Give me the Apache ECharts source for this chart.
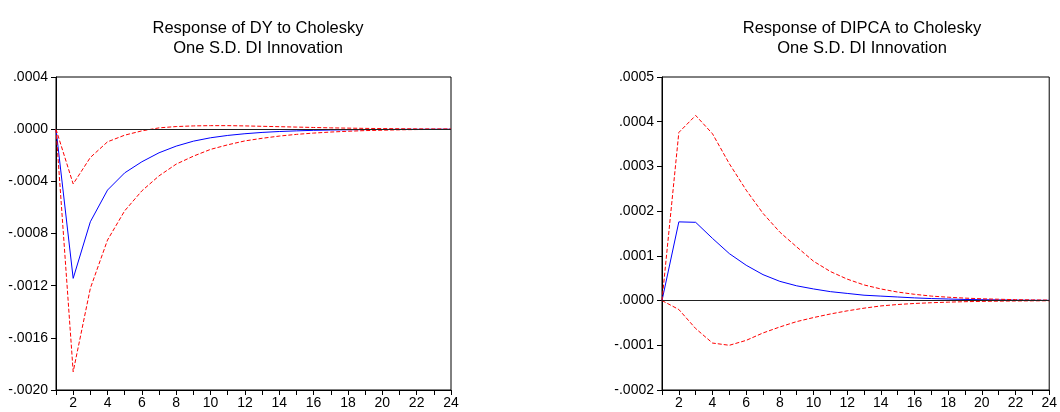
<!DOCTYPE html>
<html>
<head>
<meta charset="utf-8">
<script src="https://cdn.jsdelivr.net/npm/echarts@6/dist/echarts.min.js"></script>
<style>
html,body{margin:0;padding:0;background:#fff;}
#chart{width:1060px;height:412px;}
</style>
</head>
<body>
<div id="chart"></div>
<script>
// periods 1..24
var periods = [];
for (var p = 1; p <= 24; p++) periods.push(String(p));

// Response of DY
var dyResp = [0, -0.001144, -0.00071, -0.000467, -0.000335, -0.00025, -0.000181, -0.00013, -0.000092,
  -0.000066, -0.000048, -0.000035, -0.000025, -0.000018, -0.000013, -0.000009, -0.0000065, -0.0000047,
  -0.0000034, -0.0000024, -0.0000017, -0.0000012, -0.0000008, -0.0000005];
var dyUpper = [0, -0.00042, -0.000217, -0.000097, -0.000046, -0.000013, 0.00001, 0.00002, 0.000025,
  0.000027, 0.000027, 0.000025, 0.000022, 0.000019, 0.000016, 0.000013, 0.00001, 0.000008,
  0.000006, 0.0000045, 0.0000034, 0.0000025, 0.0000018, 0.0000012];
var dyLower = [0, -0.00186, -0.00122, -0.00085, -0.000626, -0.000473, -0.000358, -0.000268, -0.000207,
  -0.000155, -0.00012, -0.00009, -0.00007, -0.000053, -0.00004, -0.00003, -0.000022, -0.000016,
  -0.000011, -0.000008, -0.000005, -0.000003, -0.000002, -0.000001];

// Response of DIPCA
var dipResp = [0, 0.000176, 0.000175, 0.000139, 0.000105, 0.000079, 0.000058, 0.000043, 0.000033,
  0.000026, 0.00002, 0.000016, 0.000012, 0.00001, 0.000008, 0.000006, 0.0000045, 0.0000035,
  0.0000025, 0.000002, 0.0000015, 0.000001, 0.0000007, 0.0000005];
var dipUpper = [0, 0.000376, 0.000414, 0.000373, 0.000306, 0.000247, 0.000195, 0.000153, 0.00012,
  0.000088, 0.000065, 0.000048, 0.000035, 0.000026, 0.000019, 0.000014, 0.00001, 0.0000075,
  0.0000055, 0.000004, 0.000003, 0.000002, 0.0000015, 0.000001];
var dipLower = [0, -0.00002, -0.0000626, -0.000095, -0.0001, -0.000089, -0.0000724, -0.000059, -0.000047,
  -0.000038, -0.00003, -0.000023, -0.000017, -0.000012, -0.0000088, -0.0000065, -0.0000048, -0.0000035,
  -0.0000025, -0.0000018, -0.0000013, -0.0000009, -0.0000006, -0.0000004];

var titles = ['Response of DY to Cholesky\nOne S.D. DI Innovation',
  'Response of DIPCA to Cholesky\nOne S.D. DI Innovation'];

var font = 'Liberation Sans, Arial, sans-serif';

function fmt(v) {
  return v.toFixed(4).replace('0.', '.');
}

function xAx(i) {
  return {
    type: 'category', gridIndex: i, data: periods, boundaryGap: false,
    axisLine: {onZero: false, lineStyle: {color: '#000', width: 1}},
    axisTick: {show: true, interval: 0, length: 5, lineStyle: {color: '#000'}},
    axisLabel: {
      interval: function (idx) { return (idx + 1) % 2 === 0; },
      color: '#000', fontSize: 14, fontFamily: font, margin: 6
    },
    splitLine: {show: false}
  };
}

function yAx(i, min, max, step) {
  return {
    type: 'value', gridIndex: i, min: min, max: max, interval: step,
    axisLine: {show: true, onZero: false, lineStyle: {color: '#000', width: 1}},
    axisTick: {show: true, length: 5, lineStyle: {color: '#000'}},
    axisLabel: {formatter: fmt, color: '#000', fontSize: 14, fontFamily: font, margin: 8},
    splitLine: {show: false}
  };
}

function respLine(i, data) {
  return {
    type: 'line', xAxisIndex: i, yAxisIndex: i, data: data, symbol: 'none',
    lineStyle: {color: '#0000ff', width: 1}, z: 3,
    markLine: {
      silent: true, symbol: ['none', 'none'], label: {show: false},
      lineStyle: {color: '#222', type: 'solid', width: 1},
      data: [{yAxis: 0}]
    }
  };
}

function bandLine(i, data) {
  return {
    type: 'line', xAxisIndex: i, yAxisIndex: i, data: data, symbol: 'none',
    lineStyle: {color: '#ff0000', width: 1, type: [4, 2]}, z: 4
  };
}

var chart = echarts.init(document.getElementById('chart'), null, {renderer: 'canvas'});
chart.setOption({
  animation: false,
  backgroundColor: '#fff',
  title: [
    {text: titles[0], left: 253, top: 13, textAlign: 'center',
      textStyle: {fontSize: 16.5, fontWeight: 'normal', color: '#000', fontFamily: font, lineHeight: 20}},
    {text: titles[1], left: 857, top: 13, textAlign: 'center',
      textStyle: {fontSize: 16.5, fontWeight: 'normal', color: '#000', fontFamily: font, lineHeight: 20}}
  ],
  grid: [
    {left: 56, top: 77, width: 395, height: 313, show: true, borderColor: '#000', borderWidth: 1, containLabel: false},
    {left: 662, top: 77, width: 390, height: 313, show: true, borderColor: '#000', borderWidth: 1, containLabel: false}
  ],
  xAxis: [xAx(0), xAx(1)],
  yAxis: [yAx(0, -0.002, 0.0004, 0.0004), yAx(1, -0.0002, 0.0005, 0.0001)],
  series: [
    respLine(0, dyResp), bandLine(0, dyUpper), bandLine(0, dyLower),
    respLine(1, dipResp), bandLine(1, dipUpper), bandLine(1, dipLower)
  ]
});
</script>
</body>
</html>
